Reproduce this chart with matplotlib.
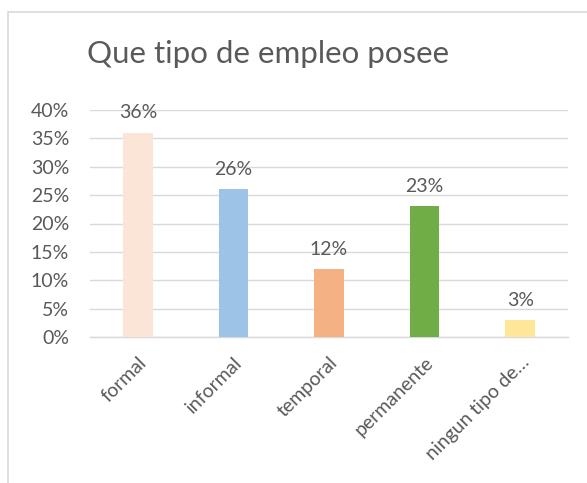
import matplotlib
matplotlib.use("Agg")
import matplotlib.pyplot as plt
from matplotlib.patches import Rectangle
from matplotlib.ticker import FuncFormatter

categories = ["formal", "informal", "temporal", "permanente", "ningun tipo de…"]
values = [0.36, 0.26, 0.12, 0.23, 0.03]
colors = ["#FBE5D6", "#9DC3E6", "#F4B183", "#70AD47", "#FFE699"]
yticks = [0, 0.05, 0.10, 0.15, 0.20, 0.25, 0.30, 0.35, 0.40]

plt.rcParams['font.family'] = ['Lato', 'DejaVu Sans']
txt = "#595959"

fig = plt.figure(figsize=(5.87, 4.83), dpi=100)
fig.patches.append(Rectangle((8/587, -0.1), 1.2, 1 - 12/483 + 0.1, transform=fig.transFigure,
                             fill=False, edgecolor="#D9D9D9", linewidth=1.2))

ax = fig.add_axes([90/587, 1 - 337/483, (568-90)/587, (337-110)/483])
x = range(len(categories))
ax.bar(x, values, width=0.31, color=colors, zorder=3)
ax.set_xlim(-0.5, len(categories) - 0.5)
ax.set_ylim(0, 0.40)
ax.set_yticks(yticks)
ax.yaxis.set_major_formatter(FuncFormatter(lambda v, p: f"{round(v*100)}%"))
ax.grid(axis='y', color="#D9D9D9", linewidth=1, zorder=0)
for s in ["top", "right", "left"]:
    ax.spines[s].set_visible(False)
ax.spines["bottom"].set_color("#D9D9D9")
ax.spines["bottom"].set_linewidth(1)
ax.tick_params(axis='y', length=0, labelsize=14, colors=txt, pad=15)
ax.tick_params(axis='x', length=0, labelsize=14, colors=txt, pad=12)
ax.set_xticks(list(x))
ax.set_xticklabels(categories, rotation=45, ha='right', va='top', rotation_mode='anchor')
for lbl in ax.get_xticklabels():
    lbl.set_color(txt)

for xi, v in zip(x, values):
    ax.text(xi, v + 0.02, f"{round(v*100)}%", ha='center', va='bottom', fontsize=14, color=txt, zorder=4)

fig.text(0.5 * (90 + 447) / 587, 1 - 63/483, "Que tipo de empleo posee", ha='center', va='baseline',
         fontsize=22.5, color=txt)

fig.savefig("out.png", dpi=100)
